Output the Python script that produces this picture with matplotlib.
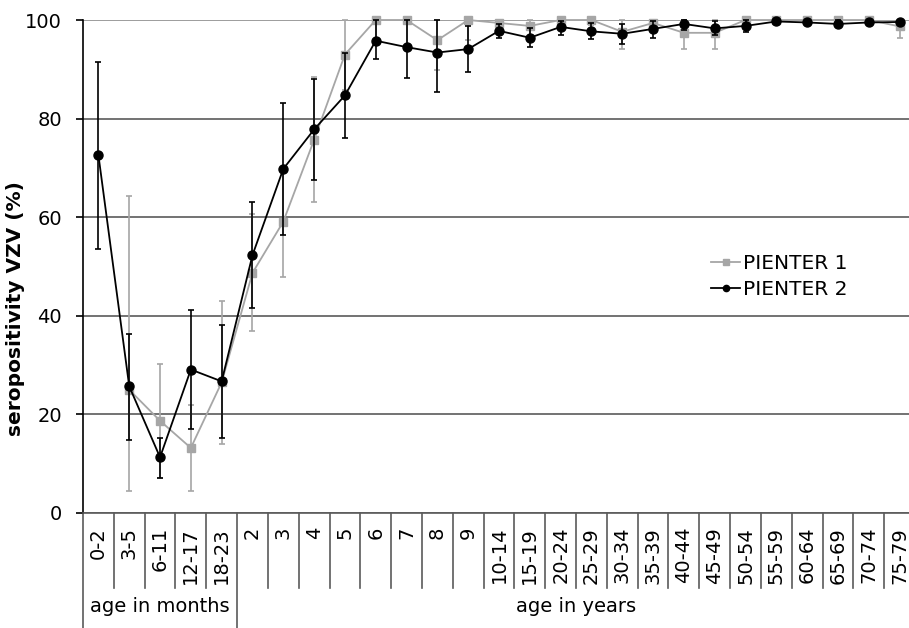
import numpy as np
import matplotlib.pyplot as plt
import matplotlib.transforms as mtransforms
from matplotlib.lines import Line2D

age_labels = ["0-2", "3-5", "6-11", "12-17", "18-23",
              "2", "3", "4", "5", "6", "7", "8", "9",
              "10-14", "15-19", "20-24", "25-29", "30-34", "35-39", "40-44",
              "45-49", "50-54", "55-59", "60-64", "65-69", "70-74", "75-79"]
n_months = 5

# PIENTER 1 (no data for 0-2 months)
p1 = [np.nan, 25.0, 18.7, 13.2, 26.5, 48.7, 59.1, 75.7, 93.0, 100, 100, 95.9, 100,
      99.4, 98.8, 100, 100, 97.6, 99.4, 97.4, 97.4, 100, 100, 100, 100, 100, 98.7]
p1_lo = [np.nan, 4.5, 7.0, 4.5, 13.9, 37.0, 47.9, 63.0, 85.8, 95.0, 95.0, 89.9, 96.0,
         97.5, 96.5, 99.0, 99.0, 94.1, 97.5, 94.1, 94.1, 99.0, 99.5, 99.5, 99.5, 99.5, 96.3]
p1_hi = [np.nan, 64.3, 30.2, 22.0, 43.1, 60.6, 70.0, 88.4, 100, 100, 100, 100, 100,
         100, 100, 100, 100, 100, 100, 100, 100, 100, 100, 100, 100, 100, 100]

# PIENTER 2
p2 = [72.6, 25.7, 11.3, 29.1, 26.7, 52.3, 69.8, 77.8, 84.7, 95.8, 94.5, 93.4, 94.1,
      97.8, 96.4, 98.6, 97.7, 97.2, 98.2, 99.2, 98.3, 98.8, 99.7, 99.5, 99.2, 99.5, 99.6]
p2_lo = [53.6, 14.9, 7.2, 17.0, 15.3, 41.5, 56.4, 67.6, 76.0, 92.1, 88.2, 85.4, 89.5,
         96.4, 94.5, 97.0, 96.1, 95.1, 96.3, 98.0, 97.0, 97.6, 99.2, 98.9, 98.5, 98.9, 99.1]
p2_hi = [91.4, 36.4, 15.3, 41.2, 38.2, 63.0, 83.2, 88.0, 93.4, 100, 100, 99.9, 98.7,
         99.2, 98.3, 99.8, 99.3, 99.2, 99.7, 100, 99.7, 100, 100, 100, 100, 100, 100]

p1, p1_lo, p1_hi = np.array(p1), np.array(p1_lo), np.array(p1_hi)
p2, p2_lo, p2_hi = np.array(p2), np.array(p2_lo), np.array(p2_hi)
x = np.arange(len(age_labels))

plt.rcParams['font.family'] = 'DejaVu Sans'

fig = plt.figure(figsize=(9.09, 6.28), dpi=100)
ax = fig.add_axes([83 / 909, 115 / 628, 832 / 909, 493 / 628])

grey = "#a6a6a6"
ax.errorbar(x, p1, yerr=[p1 - p1_lo, p1_hi - p1], color=grey, ecolor=grey,
            marker='s', markersize=6, linewidth=1.3, elinewidth=1.2, capsize=2.5,
            capthick=1.2, clip_on=False, zorder=3)
ax.errorbar(x, p2, yerr=[p2 - p2_lo, p2_hi - p2], color='black', ecolor='black',
            marker='o', markersize=6.5, linewidth=1.3, elinewidth=1.2, capsize=2.5,
            capthick=1.2, clip_on=False, zorder=4)

ax.set_xlim(-0.5, len(age_labels) - 0.5)
ax.set_ylim(0, 100)
ax.set_yticks(np.arange(0, 101, 20))
ax.yaxis.grid(True, linestyle='-', color='#5a5a5a', linewidth=1.2)
ax.get_ygridlines()[-1].set_color('#8c8c8c')
ax.set_axisbelow(True)
ax.tick_params(axis='y', labelsize=14, length=5, width=1.2, pad=10, direction='out')
ax.set_xticks(x)
ax.set_xticklabels(age_labels, rotation=90, fontsize=14)
ax.tick_params(axis='x', length=0, pad=10)

for side in ['top', 'right']:
    ax.spines[side].set_visible(False)
ax.spines['bottom'].set_color('#5a5a5a')
ax.spines['bottom'].set_linewidth(1.2)
ax.spines['left'].set_linewidth(1.2)

# category boxes below the axis
trans = mtransforms.blended_transform_factory(ax.transData, ax.transAxes)
for k in range(len(age_labels) + 1):
    bottom = -0.233 if k in (0, n_months) else -0.152
    ax.plot([k - 0.5, k - 0.5], [0, bottom], color='#5a5a5a', linewidth=1.2,
            transform=trans, clip_on=False)
ax.text((n_months - 1) / 2, -0.19, "age in months", transform=trans,
        ha='center', va='center', fontsize=14)
ax.text((n_months + len(age_labels) - 1) / 2, -0.19, "age in years",
        transform=trans, ha='center', va='center', fontsize=14)

fig.text(16 / 909, 1 - 309 / 628, "seropositivity VZV (%)", rotation=90,
         ha='center', va='center', fontsize=14.5, fontweight='bold')

handles = [Line2D([], [], color=grey, marker='s', markersize=4.5, linewidth=1.3),
           Line2D([], [], color='black', marker='o', markersize=4.5, linewidth=1.3)]
ax.legend(handles, ["PIENTER 1", "PIENTER 2"], loc='center left',
          bbox_to_anchor=(701 / 909, 1 - 276.5 / 628),
          bbox_transform=fig.transFigure, frameon=False, fontsize=14.5,
          borderpad=0, handlelength=1.45, handletextpad=0.15, labelspacing=0.35)

plt.savefig("out.png", dpi=100)
